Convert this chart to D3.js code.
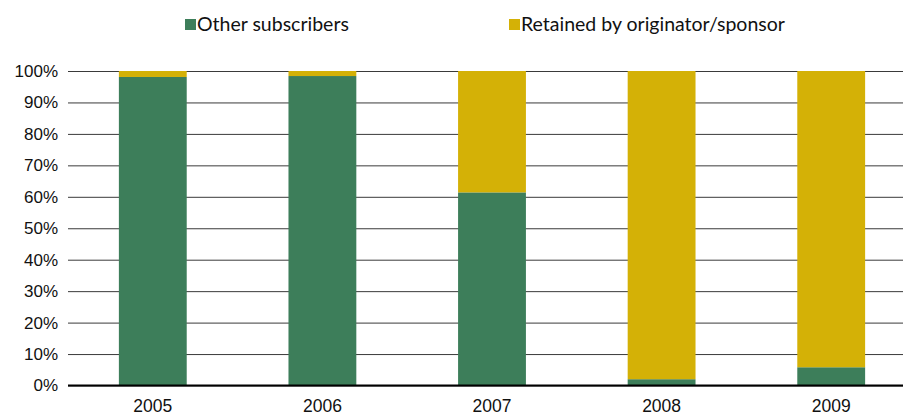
<!DOCTYPE html>
<html>
<head>
<meta charset="utf-8">
<script src="https://cdn.jsdelivr.net/npm/d3@7"></script>
<style>
  html, body { margin: 0; padding: 0; background: #fff; }
  svg { display: block; font-family: Lato, "Open Sans", sans-serif; }
</style>
</head>
<body>
<svg id="chart"></svg>
<script>
const years = ['2005', '2006', '2007', '2008', '2009']
const otherSubscribers = [98.1, 98.4, 61.4, 2.0, 5.8]
const retained = [1.9, 1.6, 38.6, 98.0, 94.2]
const seriesNames = ['Other subscribers', 'Retained by originator/sponsor']
const seriesColors = ['#3d7e5a', '#d4b106']
const yTicks = [0, 10, 20, 30, 40, 50, 60, 70, 80, 90, 100]

const width = 903
const height = 418
const plotLeft = 68
const plotTop = 71
const plotBottom = 385.5

const svg = d3.select('#chart')
    .attr('width', width)
    .attr('height', height)
    .attr('viewBox', [0, 0, width, height].join(' '))

const x = d3.scaleBand()
    .domain(years)
    .range([plotLeft, 916])
    .paddingInner(0.6)
    .paddingOuter(0.3)

const y = d3.scaleLinear()
    .domain([0, 100])
    .range([plotBottom, plotTop])

// gridlines + tick labels
const yAxis = d3.axisLeft(y)
    .tickValues(yTicks)
    .tickFormat(d => d + '%')
    .tickSize(-(width - plotLeft))
    .tickPadding(10)

svg.append('g')
    .attr('transform', `translate(${plotLeft},0)`)
    .call(yAxis)
    .call(g => g.select('.domain').remove())
    .call(g => g.selectAll('.tick line')
        .attr('stroke', '#3a3a3a')
        .attr('stroke-width', 1))
    .call(g => g.selectAll('.tick text')
        .attr('font-size', 17)
        .attr('fill', '#111'))

// stacked bars
const rows = years.map((yr, i) => ({ year: yr, other: otherSubscribers[i], retained: retained[i] }))
const stack = d3.stack().keys(['other', 'retained'])(rows)

svg.append('g')
    .selectAll('g')
    .data(stack)
    .join('g')
    .attr('fill', (d, i) => seriesColors[i])
    .selectAll('rect')
    .data(d => d)
    .join('rect')
    .attr('x', d => x(d.data.year))
    .attr('width', x.bandwidth())
    .attr('y', d => y(d[1]))
    .attr('height', d => y(d[0]) - y(d[1]))

// baseline
svg.append('line')
    .attr('x1', plotLeft)
    .attr('x2', width)
    .attr('y1', y(0))
    .attr('y2', y(0))
    .attr('stroke', '#000')
    .attr('stroke-width', 2.2)

// x labels
const xAxis = d3.axisBottom(x).tickSize(0).tickPadding(14)
svg.append('g')
    .attr('transform', `translate(0,${y(0)})`)
    .call(xAxis)
    .call(g => g.select('.domain').remove())
    .call(g => g.selectAll('.tick text')
        .attr('font-size', 17.5)
        .attr('fill', '#111'))

// legend
const legendX = [185, 509]
const legend = svg.append('g')
    .selectAll('g')
    .data(seriesNames)
    .join('g')
    .attr('transform', (d, i) => `translate(${legendX[i]},19)`)

legend.append('rect')
    .attr('width', 11)
    .attr('height', 11)
    .attr('fill', (d, i) => seriesColors[i])

legend.append('text')
    .attr('x', 12)
    .attr('y', 11.5)
    .attr('font-size', 19.5)
    .attr('fill', '#111')
    .text(d => d)
</script>
</body>
</html>
